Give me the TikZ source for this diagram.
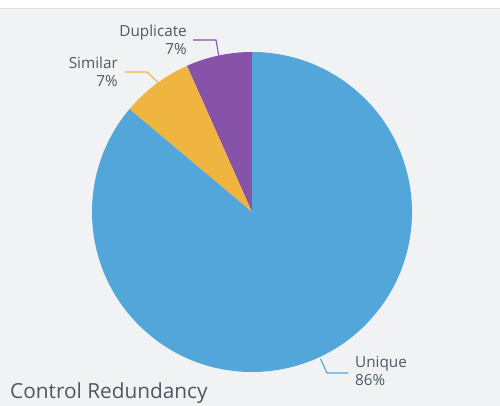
\documentclass[tikz,border=0pt]{standalone}
\usepackage{fontspec}
\setmainfont{Open Sans}

\definecolor{pagegray}{HTML}{F1F2F4}
\definecolor{rulegray}{HTML}{DDDFE3}
\definecolor{textgray}{HTML}{4D5863}
\definecolor{uniqueblue}{HTML}{53A6D9}
\definecolor{similaryellow}{HTML}{F0B541}
\definecolor{duplicatepurple}{HTML}{8753A8}

\begin{document}
\begin{tikzpicture}[
  x = 1pt,
  y = 1pt,
  leader/.style = {line width = 1.1pt},
  share/.style = {text = textgray, inner sep = 0pt,
    font = \fontsize{15.3}{18}\selectfont},
  ]

  \useasboundingbox (0, 0) rectangle (500, 406);

  \fill [pagegray] (0, 0) rectangle (500, 406);
  \fill [white] (0, 398) rectangle (500, 406);
  \draw [rulegray] (0, 398) -- (500, 398);

  \coordinate (Centre) at (252, 194);

  % slices, counter-clockwise from the top
  \fill [duplicatepurple] (Centre) -- +(90: 160)
    arc [start angle = 90, end angle = 114, radius = 160] -- cycle;

  \fill [similaryellow] (Centre) -- +(114: 160)
    arc [start angle = 114, end angle = 140, radius = 160] -- cycle;

  \fill [uniqueblue] (Centre) -- +(140: 160)
    arc [start angle = 140, end angle = 450, radius = 160] -- cycle;

  \path (Centre) ++(102: 160) coordinate (DuplicateEdge);
  \path (Centre) ++(126: 160) coordinate (SimilarEdge);
  \path (Centre) ++(-65: 162) coordinate (UniqueEdge);

  \node at (187, 366)
  [share, name = Duplicate, anchor = east, align = right] {Duplicate\\7\%};

  \node at (118, 334)
  [share, name = Similar, anchor = east, align = right] {Similar\\7\%};

  \node at (355, 35)
  [share, name = Unique, anchor = west, align = left] {Unique\\86\%};

  \draw [leader, duplicatepurple] (DuplicateEdge) -- (216, 366) -- (193, 366);

  \draw [leader, similaryellow] (SimilarEdge) -- (147, 334) -- (125, 334);

  \draw [leader, uniqueblue] (UniqueEdge) -- (327, 33) -- (348, 33);

  \node at (10, 7)
  [name = Title, anchor = base west, inner sep = 0pt, text = textgray,
   font = \fontsize{20.8}{24}\selectfont] {Control Redundancy};

\end{tikzpicture}
\end{document}
